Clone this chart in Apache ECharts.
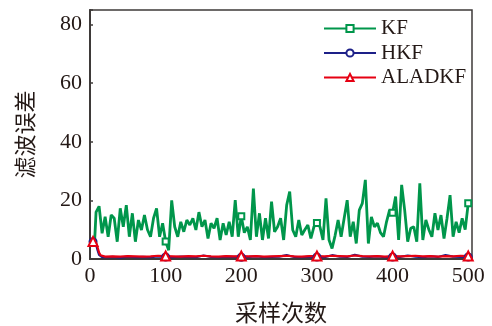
<!DOCTYPE html>
<html>
<head>
<meta charset="utf-8">
<script src="https://cdn.jsdelivr.net/npm/echarts@6/dist/echarts.min.js"></script>
<style>
  html, body { margin: 0; padding: 0; background: #fff; }
  #chart { width: 492px; height: 326px; }
</style>
</head>
<body>
<div id="chart"></div>
<script>
// Axis ticks
const xTicks = [0, 100, 200, 300, 400, 500];
const yTicks = [0, 20, 40, 60, 80];

// Sample indices where each curve is drawn
const kfSamples = [6].concat(Array.from({ length: 124 }, (_, i) => 8 + 4 * i));
const lowSamples = [4, 8, 10, 12, 14, 16].concat(Array.from({ length: 49 }, (_, i) => 20 + 10 * i));

// Samples carrying a marker symbol
const kfMarkAt = [100, 200, 300, 400, 500];
const lowMarkAt = [4, 100, 200, 300, 400, 500];

// Filter error, KF
const kfError = [
  5.5, 16, 18, 8.8, 14.4, 7.6, 15, 13.9, 5.9, 17.3, 11, 18.4, 7.6, 15.6, 5.9, 13.3, 9.9, 15, 10, 7.6, 13.9, 17.3, 7.6, 12.2, 6,
  3, 20, 11, 7.6, 12.7, 9.3, 13.3, 11.6, 13.9, 9.9, 16, 11, 13.3, 7, 12.2, 10.5, 13.9, 6.5, 12.2, 8.2, 12.7, 7.6, 20.1, 7.6, 14.6,
  9, 11, 6.5, 24, 7.6, 15.6, 6.5, 13.9, 7, 19.6, 9.3, 11, 13.9, 6.5, 18.4, 23, 9.9, 7.6, 13.3, 8.2, 10, 11.6, 7, 11, 12.3,
  11, 6.5, 20.7, 6.5, 3.6, 8, 13.3, 7.6, 13.9, 20.1, 7.6, 12.7, 5.3, 16.7, 19, 27, 5.3, 14.4, 11, 12.2, 9, 7.6, 12.7, 16.7, 15.8,
  21.3, 6.5, 25.3, 16.7, 5.9, 10.5, 11, 5.9, 25.8, 6.5, 13.3, 10, 7.6, 15.6, 9.9, 15, 7, 13.9, 21.8, 7.6, 12.7, 9, 13.9, 10, 19
];

// Filter error, HKF
const hkfError = [
  5.9, 5.0, 3.0, 1.4, 0.8, 0.6,
  0.6, 0.7, 0.5, 0.8, 0.6, 0.7, 0.6, 0.9, 0.7,
  0.6, 0.8, 0.7, 0.6, 1.2, 0.7, 0.6, 0.8, 0.7, 0.6,
  0.7, 0.9, 0.6, 0.7, 0.8, 1.3, 0.7, 0.6, 0.8, 0.7,
  0.6, 1.3, 0.8, 0.7, 1.4, 0.8, 0.7, 0.9, 0.6, 0.7,
  0.7, 1.2, 0.8, 0.6, 0.9, 0.7, 1.3, 0.8, 0.7, 0.7
];

// Filter error, ALADKF
const aladkfError = [
  6.0, 5.6, 4.0, 2.2, 1.3, 1.0,
  0.8, 0.9, 0.8, 1.0, 0.9, 0.8, 0.9, 1.1, 1.0,
  0.9, 0.8, 1.0, 0.9, 1.1, 0.9, 0.8, 1.0, 0.9, 1.0,
  0.9, 1.0, 0.8, 0.9, 1.0, 1.1, 0.9, 0.8, 1.0, 1.0,
  0.9, 1.1, 1.0, 0.9, 1.2, 1.0, 0.9, 1.0, 0.8, 1.0,
  0.9, 1.0, 1.1, 0.9, 1.0, 0.8, 1.0, 0.9, 1.1, 1.0
];

const seriesNames = ['KF', 'HKF', 'ALADKF'];
const seriesColors = ['#00964b', '#1d2088', '#e60012'];

const serif = '"Liberation Serif", "Times New Roman", serif';
const cjk = '"Noto Sans CJK SC", sans-serif';
const ink = '#231815';
const frame = '#3e3a39';

// Pair samples with values; only marker samples keep their symbol
function buildData(samples, values, markAt) {
  return samples.map((s, i) => {
    const item = { value: [s, values[i]] };
    if (markAt.indexOf(s) < 0) item.symbol = 'none';
    return item;
  });
}

function lineSeries(idx, symbol, size, data, width) {
  return {
    name: seriesNames[idx],
    type: 'line',
    data: data,
    symbol: symbol,
    symbolSize: size,
    showAllSymbol: true,
    lineStyle: { color: seriesColors[idx], width: width },
    itemStyle: { color: seriesColors[idx], borderColor: seriesColors[idx], borderWidth: 1.3 },
    emphasis: { disabled: true },
    animation: false
  };
}

const chart = echarts.init(document.getElementById('chart'), null, { renderer: 'canvas' });

chart.setOption({
  backgroundColor: '#fff',
  animation: false,
  grid: {
    left: 90, right: 20, top: 10, bottom: 67,
    outerBoundsMode: 'none',
    show: true, borderColor: frame, borderWidth: 1.5, backgroundColor: 'transparent'
  },
  legend: {
    orient: 'vertical',
    left: 318,
    top: 13,
    itemWidth: 52,
    itemHeight: 9,
    itemGap: 3.5,
    textStyle: { fontFamily: serif, fontSize: 21, color: ink, padding: [0, 0, 0, 0] },
    data: seriesNames
  },
  xAxis: {
    type: 'value',
    min: xTicks[0],
    max: 505,
    interval: 100,
    name: '采样次数',
    nameLocation: 'middle',
    nameGap: 42,
    nameTextStyle: { fontFamily: cjk, fontSize: 23, color: ink },
    axisLine: { show: true, lineStyle: { color: frame, width: 2 } },
    axisTick: { show: false },
    splitLine: { show: false },
    axisLabel: {
      margin: 6,
      fontFamily: serif, fontSize: 22, color: ink,
      formatter: v => (xTicks.indexOf(v) >= 0 ? String(v) : '')
    }
  },
  yAxis: {
    type: 'value',
    min: yTicks[0],
    max: 85,
    interval: 20,
    name: '滤波误差',
    nameLocation: 'middle',
    nameGap: 54,
    nameTextStyle: { fontFamily: cjk, fontSize: 22, color: ink },
    axisLine: { show: true, lineStyle: { color: frame, width: 2 } },
    axisTick: { show: true, inside: true, length: 3, lineStyle: { color: frame, width: 1.5 } },
    splitLine: { show: false },
    axisLabel: {
      margin: 8,
      fontFamily: serif, fontSize: 22, color: ink,
      formatter: v => (yTicks.indexOf(v) >= 0 ? String(v) : '')
    }
  },
  series: [
    lineSeries(0, 'emptyRect', 6, buildData(kfSamples, kfError, kfMarkAt), 2.8),
    lineSeries(1, 'emptyCircle', 7, buildData(lowSamples, hkfError, lowMarkAt), 2.2),
    lineSeries(2, 'emptyTriangle', 9, buildData(lowSamples, aladkfError, lowMarkAt), 2.2)
  ]
});
</script>
</body>
</html>
